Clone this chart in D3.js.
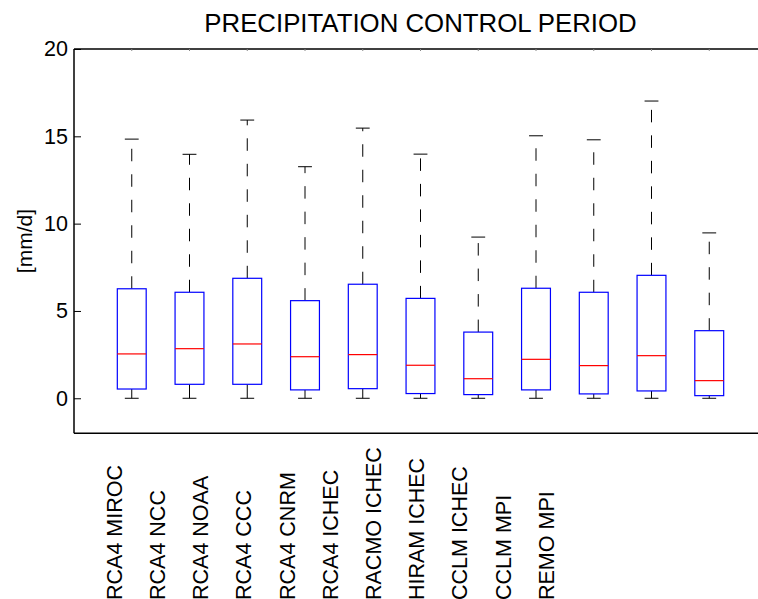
<!DOCTYPE html>
<html>
<head>
<meta charset="utf-8">
<script src="https://cdn.jsdelivr.net/npm/d3@7"></script>
<style>
  body { margin: 0; background: #fff; }
  svg { display: block; font-family: "Liberation Sans", Arial, sans-serif; }
</style>
</head>
<body>
<svg width="758" height="599"></svg>
<script>
// values, one entry per model
const models = ["RCA4 MIROC", "RCA4 NCC", "RCA4 NOAA", "RCA4 CCC", "RCA4 CNRM", "RCA4 ICHEC",
                "RACMO ICHEC", "HIRAM ICHEC", "CCLM ICHEC", "CCLM MPI", "REMO MPI"];
const whiskerLow  = [0, 0, 0, 0, 0, 0, 0, 0, 0, 0, 0];
const q1          = [0.53, 0.80, 0.80, 0.48, 0.55, 0.27, 0.21, 0.48, 0.25, 0.42, 0.15];
const median      = [2.54, 2.84, 3.11, 2.38, 2.50, 1.89, 1.12, 2.23, 1.87, 2.44, 1.01];
const q3          = [6.27, 6.07, 6.87, 5.59, 6.53, 5.72, 3.79, 6.30, 6.07, 7.04, 3.87];
const whiskerHigh = [14.84, 13.97, 15.93, 13.26, 15.47, 13.98, 9.23, 15.03, 14.80, 17.02, 9.47];
const yTicks = [0, 5, 10, 15, 20];

const svg = d3.select("svg");
const plotLeft = 74, plotTop = 49, plotBottom = 433.2, plotRight = 767;

const boxes = models.map((name, i) => ({
  name: name, pos: i + 1,
  lo: whiskerLow[i], q1: q1[i], med: median[i], q3: q3[i], hi: whiskerHigh[i]
}));

const x = d3.scaleLinear().domain([0, 12]).range([plotLeft, plotRight]);
const y = d3.scaleLinear().domain([-2, 20]).range([plotBottom, plotTop]);
// rotated labels sit on their own spacing, not under the boxes
const xLabel = d3.scalePoint().domain(models).range([121.7, 553.7]);

const boxHalf = 0.25, capHalf = 0.12;

// title
svg.append("text")
    .attr("x", (plotLeft + plotRight) / 2)
    .attr("y", 32)
    .attr("text-anchor", "middle")
    .style("font-size", "25.8px")
    .text("PRECIPITATION CONTROL PERIOD");

// y axis label
svg.append("text")
    .attr("transform", `translate(32,${(plotTop + plotBottom) / 2}) rotate(-90)`)
    .attr("text-anchor", "middle")
    .style("font-size", "21px")
    .text("[mm/d]");

// axes frame (right side falls outside the picture)
const frame = svg.append("g").attr("stroke", "#000").attr("stroke-width", 1.5).attr("fill", "none");
frame.append("line").attr("x1", plotLeft).attr("x2", plotRight).attr("y1", plotTop).attr("y2", plotTop);
frame.append("line").attr("x1", plotLeft).attr("x2", plotRight).attr("y1", plotBottom).attr("y2", plotBottom);
frame.append("line").attr("x1", plotLeft).attr("x2", plotLeft).attr("y1", plotTop).attr("y2", plotBottom);

// y ticks
const yAxis = d3.axisLeft(y).tickValues(yTicks).tickSize(-7).tickPadding(6);
const gy = svg.append("g").attr("transform", `translate(${plotLeft},0)`).call(yAxis);
gy.select(".domain").remove();
gy.selectAll("line").attr("stroke", "#000");
gy.selectAll("text").style("font-size", "21.5px").attr("fill", "#000");
gy.attr("font-family", null).attr("font-size", null);

// small ticks along top at box positions
svg.append("g").selectAll("line")
  .data(boxes).enter().append("line")
    .attr("x1", d => x(d.pos)).attr("x2", d => x(d.pos))
    .attr("y1", plotTop).attr("y2", plotTop + 2)
    .attr("stroke", "#888");

// category labels
svg.append("g").selectAll("text")
  .data(models).enter().append("text")
    .attr("transform", d => `translate(${xLabel(d)},600) rotate(-90)`)
    .attr("text-anchor", "start")
    .style("font-size", "21.5px")
    .text(d => d);

// boxplots
const g = svg.append("g").selectAll("g").data(boxes).enter().append("g");

g.append("line") // upper whisker
    .attr("x1", d => x(d.pos)).attr("x2", d => x(d.pos))
    .attr("y1", d => y(d.q3)).attr("y2", d => y(d.hi))
    .attr("stroke", "#000").attr("stroke-dasharray", "12.5,13");
g.append("line") // lower whisker
    .attr("x1", d => x(d.pos)).attr("x2", d => x(d.pos))
    .attr("y1", d => y(d.q1)).attr("y2", d => y(d.lo))
    .attr("stroke", "#000");
g.append("line")
    .attr("x1", d => x(d.pos - capHalf)).attr("x2", d => x(d.pos + capHalf))
    .attr("y1", d => y(d.hi)).attr("y2", d => y(d.hi))
    .attr("stroke", "#000");
g.append("line")
    .attr("x1", d => x(d.pos - capHalf)).attr("x2", d => x(d.pos + capHalf))
    .attr("y1", d => y(d.lo)).attr("y2", d => y(d.lo))
    .attr("stroke", "#000");
g.append("rect")
    .attr("x", d => x(d.pos - boxHalf))
    .attr("width", d => x(d.pos + boxHalf) - x(d.pos - boxHalf))
    .attr("y", d => y(d.q3))
    .attr("height", d => y(d.q1) - y(d.q3))
    .attr("fill", "#fff").attr("stroke", "#0000ff").attr("stroke-width", 1.2);
g.append("line")
    .attr("x1", d => x(d.pos - boxHalf)).attr("x2", d => x(d.pos + boxHalf))
    .attr("y1", d => y(d.med)).attr("y2", d => y(d.med))
    .attr("stroke", "#ff0000").attr("stroke-width", 1.2);
</script>
</body>
</html>
